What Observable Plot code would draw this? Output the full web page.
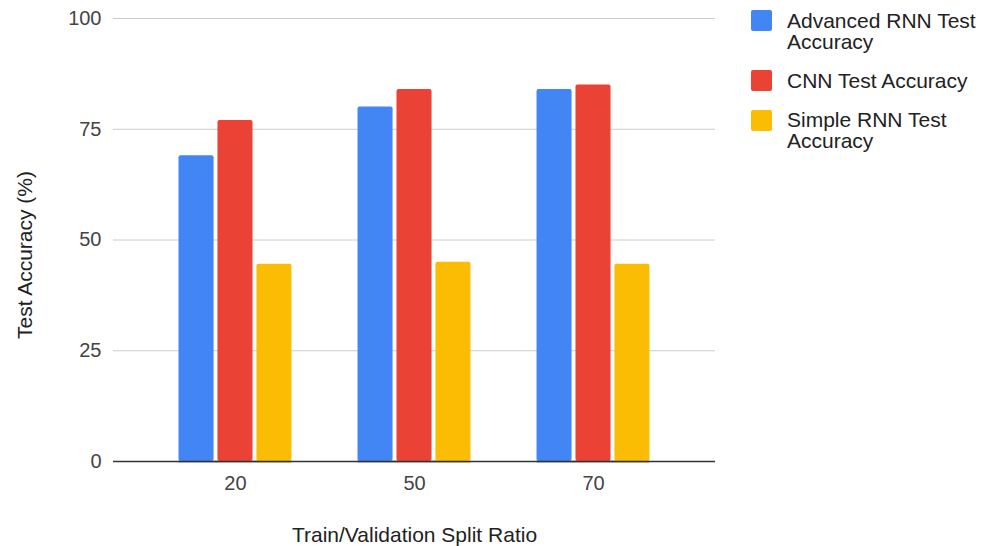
<!DOCTYPE html>
<html>
<head>
<meta charset="utf-8">
<script src="https://cdn.jsdelivr.net/npm/d3@7"></script>
<script src="https://cdn.jsdelivr.net/npm/@observablehq/plot@0.6"></script>
<style>
  body { margin: 0; background: #fff; font-family: "Liberation Sans", Arial, sans-serif; }
  #wrap { position: relative; width: 984px; height: 546px; overflow: hidden; }
  #wrap svg { position: absolute; left: 0; top: 0; }
  #legend { position: absolute; left: 751px; top: 9.5px; display: flex; flex-direction: column; gap: 18px;
            font-size: 21px; line-height: 21px; color: #222; }
  .item { display: flex; align-items: flex-start; }
  .sw { width: 21px; height: 21px; border-radius: 2px; flex: none; margin-top: 0.5px; }
  .lbl { margin-left: 15px; width: 197px; }
</style>
</head>
<body>
<div id="wrap"><div id="legend"></div></div>
<script>
// Train/validation split ratios (one group of bars each)
const splits = ["20", "50", "70"];
// Model series, in drawing order
const seriesNames = ["Advanced RNN Test Accuracy", "CNN Test Accuracy", "Simple RNN Test Accuracy"];
const seriesColors = ["#4285F4", "#EA4335", "#FBBC04"];
// Test accuracy (%) per split, for each model
const advancedRnn = [69, 80, 84];
const cnn = [77, 84, 85];
const simpleRnn = [44.5, 45, 44.5];
// Axis ticks and titles
const yTicks = [0, 25, 50, 75, 100];
const xTitle = "Train/Validation Split Ratio";
const yTitle = "Test Accuracy (%)";

const seriesValues = [advancedRnn, cnn, simpleRnn];
const rows = splits.flatMap((split, i) =>
  seriesNames.map((series, j) => ({ split, series, value: seriesValues[j][i] }))
);

// shared frame geometry for both layers
const frame = {
  width: 984,
  height: 546,
  marginLeft: 113,
  marginRight: 269,
  marginTop: 18,
  marginBottom: 85,
  style: { fontFamily: "Liberation Sans, Arial, sans-serif", fontSize: "20px", background: "transparent" }
};
const groupBands = { type: "band", domain: splits, paddingInner: 0.369, paddingOuter: 0.366, round: false };

// back layer: gridlines, baseline, tick labels and axis titles
const axes = Plot.plot({
  ...frame,
  x: { ...groupBands },
  y: { domain: [0, 100] },
  marks: [
    Plot.ruleY(yTicks.slice(1), { stroke: "#cccccc", strokeWidth: 1 }),
    Plot.ruleY([0], { stroke: "#333", strokeWidth: 1.3 }),
    Plot.axisY({ ticks: yTicks, tickSize: 0, tickPadding: 12, label: null, color: "#444" }),
    Plot.axisX({ tickSize: 0, tickPadding: 14, label: null, color: "#444" }),
    Plot.text([xTitle], { text: (d) => d, frameAnchor: "bottom", lineAnchor: "top", dy: 66, fontSize: 21, fill: "#222" }),
    Plot.text([yTitle], {
      text: (d) => d, frameAnchor: "left", textAnchor: "middle", lineAnchor: "middle",
      rotate: -90, dx: -88, dy: 15, fontSize: 21, fill: "#222"
    })
  ]
});

// front layer: grouped bars, one facet per split ratio
const bars = Plot.plot({
  ...frame,
  fx: { ...groupBands, axis: null },
  x: { domain: seriesNames, paddingInner: 0.1, paddingOuter: 0, round: false, axis: null },
  y: { domain: [0, 100], axis: null },
  color: { domain: seriesNames, range: seriesColors },
  marks: [
    Plot.barY(rows, { fx: "split", x: "series", y: "value", fill: "series", rx: 2 }),
    Plot.ruleY([0], { stroke: "#333", strokeWidth: 1.3 })
  ]
});

const wrap = document.getElementById("wrap");
wrap.insertBefore(bars, wrap.firstChild);
wrap.insertBefore(axes, wrap.firstChild);

// legend at the right
const legend = d3.select("#legend");
seriesNames.forEach((name, i) => {
  const item = legend.append("div").attr("class", "item");
  item.append("div").attr("class", "sw").style("background", seriesColors[i]);
  item.append("div").attr("class", "lbl").text(name);
});
</script>
</body>
</html>
